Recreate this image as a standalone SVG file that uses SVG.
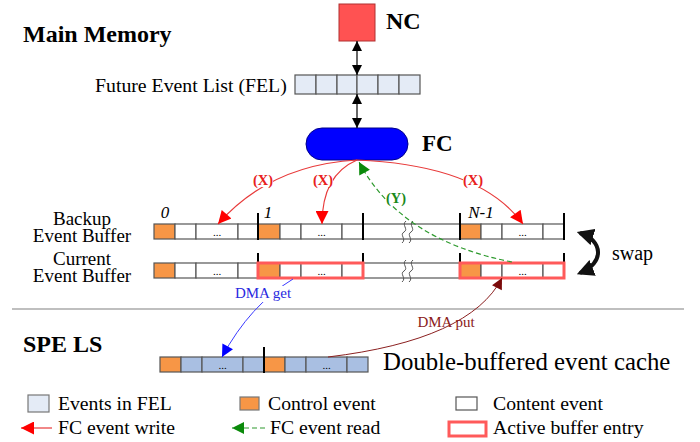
<svg xmlns="http://www.w3.org/2000/svg" width="700" height="442" viewBox="0 0 700 442">
<defs>
<style>
.t{font-family:"Liberation Serif","Times New Roman",serif;fill:#000}
.b{font-weight:bold}
.cell{stroke:#555;stroke-width:1.2}
.w{fill:#fff}
.o{fill:#F79646}
.f{fill:#E4EBF6}
.s{fill:#A9BFE2}
.tick{stroke:#000;stroke-width:2}
.act{fill:none;stroke:#FF5A5A;stroke-width:3}
.dots{font-family:"Liberation Serif",serif;font-size:11px;text-anchor:middle}
.red{fill:none;stroke:#E83A3A;stroke-width:1.2}
.grn{fill:none;stroke:#2E9A2E;stroke-width:1.2;stroke-dasharray:5,3}
.brk{fill:none;stroke:#555;stroke-width:1}
.bg{fill:#fff}
</style>
<marker id="ab" viewBox="0 0 10 10" refX="10" refY="5" markerWidth="10" markerHeight="12" markerUnits="userSpaceOnUse" orient="auto-start-reverse"><path d="M0,0 L10,5 L0,10 z" fill="#000"/></marker>
<marker id="ar" viewBox="0 0 10 10" refX="10" refY="5" markerWidth="16" markerHeight="13" markerUnits="userSpaceOnUse" orient="auto"><path d="M0,0 L10,5 L0,10 z" fill="#FF0000"/></marker>
<marker id="ag" viewBox="0 0 10 10" refX="10" refY="5" markerWidth="15" markerHeight="12" markerUnits="userSpaceOnUse" orient="auto"><path d="M0,0 L10,5 L0,10 z" fill="#0A8A0A"/></marker>
<marker id="abl" viewBox="0 0 10 10" refX="10" refY="5" markerWidth="15" markerHeight="12" markerUnits="userSpaceOnUse" orient="auto"><path d="M0,0 L10,5 L0,10 z" fill="#0000FF"/></marker>
<marker id="am" viewBox="0 0 10 10" refX="10" refY="5" markerWidth="13" markerHeight="11" markerUnits="userSpaceOnUse" orient="auto"><path d="M0,0 L10,5 L0,10 z" fill="#7A0A0A"/></marker>
<marker id="asw" viewBox="0 0 10 10" refX="8" refY="5" markerWidth="17" markerHeight="17" markerUnits="userSpaceOnUse" orient="auto-start-reverse"><path d="M0,0 L10,5 L0,10 z" fill="#111"/></marker>
</defs>

<text class="t b" x="23" y="42" font-size="24">Main Memory</text>
<text class="t b" x="23" y="352" font-size="24">SPE LS</text>
<line x1="12" y1="309" x2="684" y2="309" stroke="#808080" stroke-width="1.2"/>

<g id="nc">
<rect x="339" y="4" width="36" height="37" fill="#FF5252" stroke="#B03030" stroke-width="1"/>
<text class="t b" x="386" y="29" font-size="24">NC</text>
</g>

<g id="fel">
<text class="t" x="95" y="92" font-size="19.8">Future Event List (FEL)</text>
<rect class="cell f" x="295" y="75" width="21" height="19"/>
<rect class="cell f" x="316" y="75" width="21" height="19"/>
<rect class="cell f" x="337" y="75" width="20" height="19"/>
<rect class="cell f" x="357" y="75" width="21" height="19"/>
<rect class="cell f" x="378" y="75" width="21" height="19"/>
<rect class="cell f" x="399" y="75" width="21" height="19"/>
</g>

<g id="fc">
<rect x="306" y="128" width="102" height="32" rx="16" fill="#0000FF" stroke="#00008B" stroke-width="1"/>
<text class="t b" x="422" y="151" font-size="23">FC</text>
</g>

<g id="backup-buffer">
<text class="t" x="82" y="225" font-size="19" text-anchor="middle">Backup</text>
<text class="t" x="82" y="241.5" font-size="19" text-anchor="middle">Event Buffer</text>
<rect class="cell o" x="154" y="224" width="21" height="15"/>
<rect class="cell w" x="175" y="224" width="21" height="15"/>
<rect class="cell w" x="196" y="224" width="42" height="15"/>
<rect class="cell w" x="238" y="224" width="20" height="15"/>
<rect class="cell o" x="258" y="224" width="22" height="15"/>
<rect class="cell w" x="280" y="224" width="21" height="15"/>
<rect class="cell w" x="301" y="224" width="41" height="15"/>
<rect class="cell w" x="342" y="224" width="21" height="15"/>
<rect class="cell w" x="363" y="224" width="97" height="15"/>
<rect class="cell o" x="460" y="224" width="21" height="15"/>
<rect class="cell w" x="481" y="224" width="21" height="15"/>
<rect class="cell w" x="502" y="224" width="41" height="15"/>
<rect class="cell w" x="543" y="224" width="21" height="15"/>
<text class="dots" x="217" y="236">...</text>
<text class="dots" x="321.5" y="236">...</text>
<text class="dots" x="522.5" y="236">...</text>
<line class="tick" x1="258" y1="213" x2="258" y2="240"/>
<line class="tick" x1="363" y1="213" x2="363" y2="240"/>
<line class="tick" x1="460" y1="213" x2="460" y2="240"/>
<line class="tick" x1="564" y1="213" x2="564" y2="240"/>
<path class="brk" d="M402,243 c5,-4 -3,-8 2,-11 c5,-3 -3,-7 2,-11"/>
<path class="brk" d="M409,243 c5,-4 -3,-8 2,-11 c5,-3 -3,-7 2,-11"/>
<text class="t" x="165" y="218" font-size="17" font-style="italic" text-anchor="middle">0</text>
<text class="t" x="268" y="218" font-size="17" font-style="italic" text-anchor="middle">1</text>
<text class="t" x="481" y="218" font-size="17" font-style="italic" text-anchor="middle">N-1</text>
</g>

<g id="current-buffer">
<text class="t" x="82" y="265" font-size="19" text-anchor="middle">Current</text>
<text class="t" x="82" y="281.5" font-size="19" text-anchor="middle">Event Buffer</text>
<rect class="cell o" x="154" y="263" width="21" height="15"/>
<rect class="cell w" x="175" y="263" width="21" height="15"/>
<rect class="cell w" x="196" y="263" width="42" height="15"/>
<rect class="cell w" x="238" y="263" width="20" height="15"/>
<rect class="cell o" x="258" y="263" width="22" height="15"/>
<rect class="cell w" x="280" y="263" width="21" height="15"/>
<rect class="cell w" x="301" y="263" width="41" height="15"/>
<rect class="cell w" x="342" y="263" width="21" height="15"/>
<rect class="cell w" x="363" y="263" width="97" height="15"/>
<rect class="cell o" x="460" y="263" width="21" height="15"/>
<rect class="cell w" x="481" y="263" width="21" height="15"/>
<rect class="cell w" x="502" y="263" width="41" height="15"/>
<rect class="cell w" x="543" y="263" width="21" height="15"/>
<text class="dots" x="217" y="275">...</text>
<text class="dots" x="321.5" y="275">...</text>
<text class="dots" x="522.5" y="275">...</text>
<line class="tick" x1="258" y1="253" x2="258" y2="263"/>
<line class="tick" x1="363" y1="253" x2="363" y2="263"/>
<line class="tick" x1="460" y1="253" x2="460" y2="263"/>
<line class="tick" x1="564" y1="253" x2="564" y2="263"/>
<path class="brk" d="M402,282 c5,-4 -3,-8 2,-11 c5,-3 -3,-7 2,-11"/>
<path class="brk" d="M409,282 c5,-4 -3,-8 2,-11 c5,-3 -3,-7 2,-11"/>
<rect class="act" x="258" y="263" width="105" height="15"/>
<rect class="act" x="460" y="263" width="104" height="15"/>
</g>

<g id="swap">
<path d="M580,233 C603,240 605,263 580,273" fill="none" stroke="#111" stroke-width="4" marker-start="url(#asw)" marker-end="url(#asw)"/>
<text class="t" x="612" y="260" font-size="20">swap</text>
</g>

<g id="spe-cache">
<rect class="cell o" x="160" y="357" width="21" height="15"/>
<rect class="cell s" x="181" y="357" width="21" height="15"/>
<rect class="cell s" x="202" y="357" width="41" height="15"/>
<rect class="cell s" x="243" y="357" width="21" height="15"/>
<rect class="cell o" x="264" y="357" width="21" height="15"/>
<rect class="cell s" x="285" y="357" width="21" height="15"/>
<rect class="cell s" x="306" y="357" width="41" height="15"/>
<rect class="cell s" x="347" y="357" width="21" height="15"/>
<text class="dots" x="222.5" y="369">...</text>
<text class="dots" x="326.5" y="369">...</text>
<line class="tick" x1="264" y1="347" x2="264" y2="373"/>
<text class="t" x="383" y="370" font-size="24.8">Double-buffered event cache</text>
</g>

<g id="connectors">
<line x1="357" y1="41" x2="357" y2="75" stroke="#000" stroke-width="1.2" marker-start="url(#ab)" marker-end="url(#ab)"/>
<line x1="357" y1="94" x2="357" y2="128" stroke="#000" stroke-width="1.2" marker-start="url(#ab)" marker-end="url(#ab)"/>
<path class="red" d="M357,160 Q270,165 218,224" marker-end="url(#ar)"/>
<path class="red" d="M357,160 Q322,175 322,224" marker-end="url(#ar)"/>
<path class="red" d="M357,160 Q480,165 523,224" marker-end="url(#ar)"/>
<path class="grn" d="M512,262 Q400,240 359,162" marker-end="url(#ag)"/>
<path d="M293,279 Q250,305 222,357" fill="none" stroke="#3A3AFF" stroke-width="1" marker-end="url(#abl)"/>
<path d="M328,357 Q470,340 502,278" fill="none" stroke="#8B2020" stroke-width="1" marker-end="url(#am)"/>
<rect class="bg" x="253" y="174" width="20" height="13"/>
<rect class="bg" x="313" y="174" width="20" height="13"/>
<rect class="bg" x="463" y="174" width="20" height="13"/>
<rect class="bg" x="386" y="192" width="20" height="13"/>
<text class="t b" x="263" y="185" font-size="14.5" style="fill:#E82020" text-anchor="middle">(X)</text>
<text class="t b" x="323" y="185" font-size="14.5" style="fill:#E82020" text-anchor="middle">(X)</text>
<text class="t b" x="473" y="185" font-size="14.5" style="fill:#E82020" text-anchor="middle">(X)</text>
<text class="t b" x="396" y="203" font-size="14.5" style="fill:#1A8A1A" text-anchor="middle">(Y)</text>
<rect class="bg" x="234" y="286" width="58" height="16"/>
<text class="t" x="263" y="298" font-size="15" style="fill:#2A2AE0" text-anchor="middle">DMA get</text>
<text class="t" x="446" y="327" font-size="15" style="fill:#8B1A1A" text-anchor="middle">DMA put</text>
</g>

<g id="legend">
<rect class="f" x="28" y="395" width="21" height="17" stroke="#777" stroke-width="1.2"/>
<text class="t" x="58" y="410" font-size="19.7">Events in FEL</text>
<rect class="o" x="240" y="397" width="19" height="13" stroke="#777" stroke-width="1.2"/>
<text class="t" x="268" y="410" font-size="19.7">Control event</text>
<rect class="w" x="456" y="397" width="21" height="13" stroke="#555" stroke-width="1.2"/>
<text class="t" x="493" y="410" font-size="19.7">Content event</text>
<line x1="52" y1="428" x2="21" y2="428" stroke="#E83A3A" stroke-width="1.2" marker-end="url(#ar)"/>
<text class="t" x="58" y="434" font-size="19.7">FC event write</text>
<line class="grn" x1="265" y1="428" x2="232" y2="428" marker-end="url(#ag)"/>
<text class="t" x="270" y="434" font-size="19.7">FC event read</text>
<rect class="act" x="449" y="422" width="37" height="14"/>
<text class="t" x="493" y="434" font-size="19.7">Active buffer entry</text>
</g>
</svg>
